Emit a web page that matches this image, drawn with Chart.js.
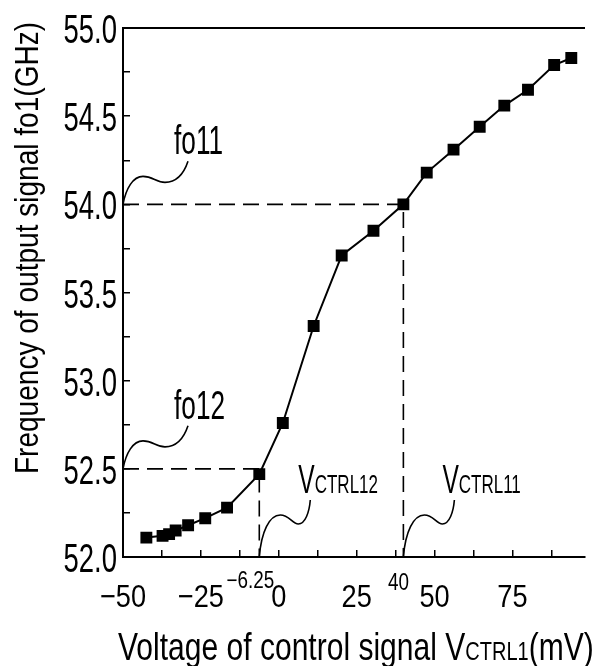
<!DOCTYPE html>
<html>
<head>
<meta charset="utf-8">
<script src="https://cdn.jsdelivr.net/npm/chart.js@4.4.1/dist/chart.umd.min.js"></script>
<style>
  html, body { margin: 0; padding: 0; background: #fff; }
  #wrap { width: 594px; height: 666px; }
</style>
</head>
<body>
<div id="wrap"><canvas id="vcoChart"></canvas></div>
<script>
// control voltage (mV) and output frequency (GHz)
const voltage = [-42.5, -37.3, -35.2, -33.1, -29.1, -23.6, -16.6, -6.25, 1.3, 11.2, 20.2, 30.4, 40, 47.5, 56.1, 64.5, 72.4, 80.0, 88.4, 93.9];
const frequency = [52.11, 52.12, 52.13, 52.15, 52.18, 52.22, 52.28, 52.47, 52.76, 53.31, 53.71, 53.85, 54.0, 54.18, 54.31, 54.44, 54.56, 54.65, 54.79, 54.83];

// axis ticks
const xTicks = [-50, -37.5, -25, -12.5, 0, 12.5, 25, 37.5, 50, 62.5, 75, 87.5];
const xTickLabels = ["\u221250", "", "\u221225", "", "0", "", "25", "", "50", "", "75", ""];
const yTicks = [52, 52.25, 52.5, 52.75, 53, 53.25, 53.5, 53.75, 54, 54.25, 54.5, 54.75, 55];
const yTickLabels = ["52.0", "", "52.5", "", "53.0", "", "53.5", "", "54.0", "", "54.5", "", "55.0"];

// marked operating points
const marks = [
  { v: 40, f: 54.0, fLabel: "fo11", vLabel: "40", vSub: "CTRL11" },
  { v: -6.25, f: 52.5, fLabel: "fo12", vLabel: "\u22126.25", vSub: "CTRL12" }
];

const FONT = "'Liberation Sans', Arial, sans-serif";

// the figure uses a narrow drafting font, so squeeze text horizontally
function narrowText(ctx, text, x, y, size, sx, align) {
  ctx.save();
  ctx.font = size + "px " + FONT;
  ctx.textAlign = align || "left";
  ctx.textBaseline = "alphabetic";
  ctx.translate(x, y);
  ctx.scale(sx, 1);
  ctx.fillText(text, 0, 0);
  const w = ctx.measureText(text).width * sx;
  ctx.restore();
  return w;
}

function squiggle(ctx, x, y, pts) {
  ctx.beginPath();
  ctx.moveTo(x, y);
  for (const p of pts) {
    ctx.bezierCurveTo(x + p[0], y + p[1], x + p[2], y + p[3], x + p[4], y + p[5]);
  }
  ctx.stroke();
}

const guides = {
  id: "guides",
  beforeDatasetsDraw(chart) {
    const { ctx, chartArea, scales } = chart;
    ctx.save();
    ctx.strokeStyle = "#000";
    ctx.lineWidth = 1.6;
    ctx.setLineDash([16, 8]);
    marks.forEach(m => {
      const px = scales.x.getPixelForValue(m.v);
      const py = scales.y.getPixelForValue(m.f);
      ctx.beginPath();
      ctx.moveTo(chartArea.left, py);
      ctx.lineTo(px, py);
      ctx.lineTo(px, chartArea.bottom);
      ctx.stroke();
    });
    ctx.restore();
  },
  afterDraw(chart) {
    const { ctx, chartArea, scales } = chart;
    ctx.save();
    ctx.strokeStyle = "#000";
    ctx.fillStyle = "#000";

    // top frame line
    ctx.lineWidth = 2;
    ctx.beginPath();
    ctx.moveTo(chartArea.left, chartArea.top);
    ctx.lineTo(chartArea.right, chartArea.top);
    ctx.stroke();

    // tick labels, placed from the scales' own ticks
    scales.y.ticks.forEach((t, i) => {
      const y = scales.y.getPixelForValue(t.value);
      narrowText(ctx, yTickLabels[i] || "", chartArea.left - 6, y + 15, 41, 0.67, "right");
    });
    scales.x.ticks.forEach((t, i) => {
      const x = scales.x.getPixelForValue(t.value);
      narrowText(ctx, xTickLabels[i] || "", x, chartArea.bottom + 50, 32, 0.85, "center");
    });

    ctx.lineWidth = 1.6;
    marks.forEach(m => {
      const px = scales.x.getPixelForValue(m.v);
      const py = scales.y.getPixelForValue(m.f);

      // frequency callout on the y axis
      squiggle(ctx, chartArea.left, py, [
        [3, -16, 10, -28, 20, -28],
        [30, -28, 33, -22, 42, -22],
        [52, -22, 60, -28, 65, -43]
      ]);
      narrowText(ctx, m.fLabel, chartArea.left + 51, py - 50, 41, 0.64);

      // voltage callout on the x axis
      squiggle(ctx, px, chartArea.bottom, [
        [2, -25, 10, -42, 21, -42],
        [30, -42, 33, -33, 39, -33],
        [46, -33, 50, -45, 51, -57]
      ]);
      const vw = narrowText(ctx, "V", px + 39, chartArea.bottom - 64, 41, 0.6);
      narrowText(ctx, m.vSub, px + 39 + vw, chartArea.bottom - 64, 25, 0.68);

      // raised tick value under the axis
      if (m.v < 0) {
        narrowText(ctx, m.vLabel, px + 15, chartArea.bottom + 31, 23, 0.82, "right");
      } else {
        narrowText(ctx, m.vLabel, px - 5, chartArea.bottom + 33, 23, 0.82, "center");
      }
    });

    // x axis title with small subscript letters
    let x = chartArea.left - 5;
    const base = 660;
    [["Voltage of control signal V", 39, 0.77], ["CTRL1", 26, 0.77], ["(mV)", 39, 0.77]].forEach(p => {
      x += narrowText(ctx, p[0], x, base, p[1], p[2]);
    });

    // y axis title
    ctx.translate(38, 248);
    ctx.rotate(-Math.PI / 2);
    narrowText(ctx, "Frequency of output signal fo1(GHz)", 0, 0, 33, 0.85, "center");
    ctx.restore();
  }
};

new Chart(document.getElementById("vcoChart"), {
  type: "scatter",
  data: {
    datasets: [{
      data: voltage.map((v, i) => ({ x: v, y: frequency[i] })),
      showLine: true,
      borderColor: "#000",
      backgroundColor: "#000",
      borderWidth: 2,
      tension: 0,
      pointStyle: "rect",
      pointRadius: 7,
      pointHoverRadius: 7
    }]
  },
  options: {
    responsive: true,
    maintainAspectRatio: false,
    animation: false,
    layout: { padding: { top: 28, right: 0, left: 0, bottom: 0 } },
    plugins: {
      legend: { display: false },
      tooltip: { enabled: false }
    },
    scales: {
      x: {
        type: "linear",
        min: -50,
        max: 98.3,
        afterBuildTicks: scale => { scale.ticks = xTicks.map(v => ({ value: v })); },
        afterFit: scale => { scale.height = 109; },
        ticks: { display: false },
        grid: { drawOnChartArea: false, tickLength: -7, color: "#000", lineWidth: 1.5 },
        border: { color: "#000", width: 2 }
      },
      y: {
        min: 52,
        max: 55,
        afterBuildTicks: scale => { scale.ticks = yTicks.map(v => ({ value: v })); },
        afterFit: scale => { scale.width = 123; },
        ticks: { display: false },
        grid: { drawOnChartArea: false, tickLength: -7, color: "#000", lineWidth: 1.5 },
        border: { color: "#000", width: 2 }
      }
    }
  },
  plugins: [guides]
});
</script>
</body>
</html>
